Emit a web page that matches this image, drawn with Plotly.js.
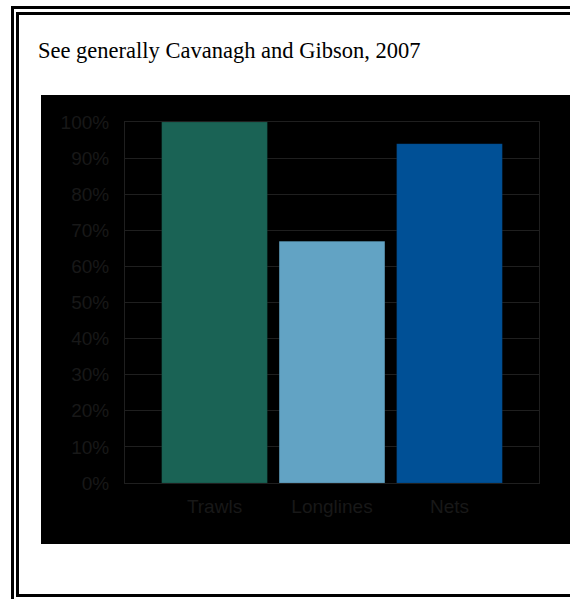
<!DOCTYPE html>
<html><head><meta charset="utf-8">
<script src="https://cdn.plot.ly/plotly-3.0.1.min.js"></script>
<style>
html,body{margin:0;padding:0;background:#fff;}
#page{position:relative;width:570px;height:599px;overflow:hidden;background:#fff;}
#outer{position:absolute;left:11px;top:6px;width:700px;height:700px;border-left:3px solid #000;border-top:3px solid #000;}
#inner{position:absolute;left:16px;top:12px;width:700px;height:579px;border-left:3px solid #000;border-top:3px solid #000;border-bottom:3px solid #000;}
#cap{position:absolute;left:38px;top:38px;font-family:"Liberation Serif","Times New Roman",serif;font-size:22.5px;color:#000;white-space:nowrap;}
#chart{position:absolute;left:41px;top:95px;width:529px;height:449px;}
</style></head>
<body><div id="page">
<div id="outer"></div><div id="inner"></div>
<div id="cap">See generally Cavanagh and Gibson, 2007</div>
<div id="chart"></div>
</div>
<script>
var categories = ["Trawls", "Longlines", "Nets"];
var values = [1.00, 0.67, 0.94];
var barColors = ["#1a6355", "#62a3c4", "#005096"];
var yTickVals = [0, 0.1, 0.2, 0.3, 0.4, 0.5, 0.6, 0.7, 0.8, 0.9, 1.0];
var yTickText = ["0%", "10%", "20%", "30%", "40%", "50%", "60%", "70%", "80%", "90%", "100%"];

var trace = {
  type: "bar",
  x: categories,
  y: values,
  width: 0.9,
  marker: {color: barColors, line: {color: "rgba(0,0,0,0.15)", width: 1}},
  hoverinfo: "none"
};
var layout = {
  width: 529, height: 449,
  margin: {l: 84, r: 31, t: 27, b: 61, pad: 0},
  paper_bgcolor: "#000", plot_bgcolor: "#000",
  showlegend: false,
  font: {family: "Liberation Sans, Arial, sans-serif", size: 19, color: "#181818"},
  xaxis: {
    type: "category", range: [-0.762, 2.762],
    showgrid: false, zeroline: false,
    showline: true, mirror: true, linecolor: "#1f1f1f", linewidth: 1,
    ticks: "", ticklabelstandoff: 6,
    tickfont: {size: 19, color: "#181818"}
  },
  yaxis: {
    range: [0, 1], tickvals: yTickVals, ticktext: yTickText,
    showgrid: true, gridcolor: "#1f1f1f", gridwidth: 1, zeroline: false,
    showline: true, mirror: true, linecolor: "#1f1f1f", linewidth: 1,
    ticks: "", ticklabelstandoff: 11,
    tickfont: {size: 19, color: "#181818"}
  }
};
Plotly.newPlot("chart", [trace], layout, {staticPlot: true, displayModeBar: false});
</script>
</body></html>
